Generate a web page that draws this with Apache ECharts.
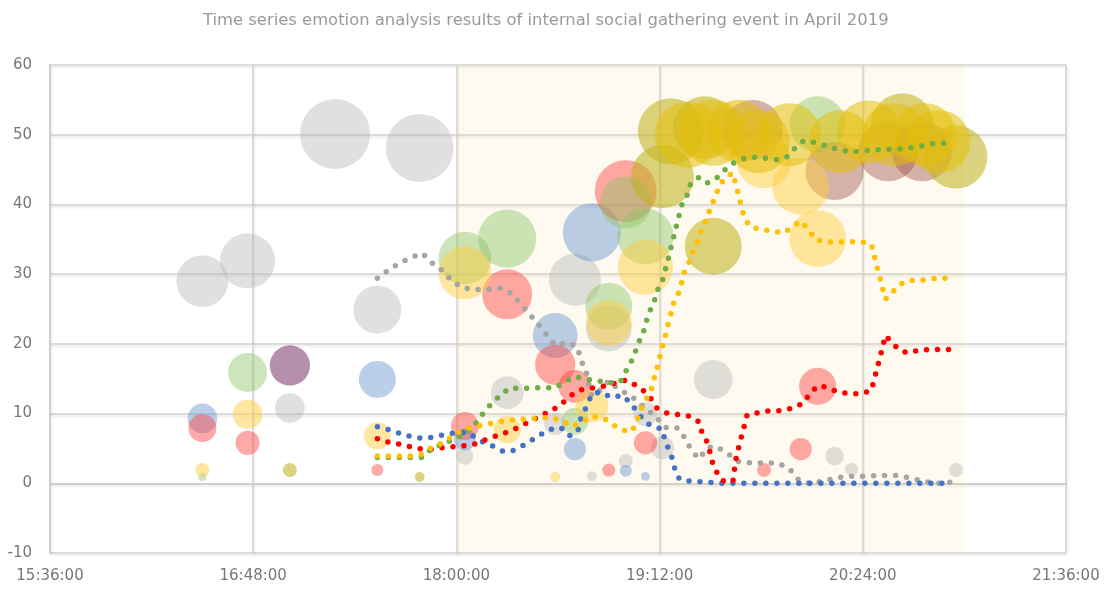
<!DOCTYPE html>
<html lang="en">

<head>
    <meta charset="UTF-8">
    <title>Emotion analysis</title>
    <script src="https://cdn.jsdelivr.net/npm/echarts@6/dist/echarts.min.js"></script>
    <style>
        body { margin: 0; background: #fff; }
    </style>
</head>

<body>
    <div id="main" style="width: 1108px;height:589px;"></div>
    <script type="text/javascript">
        // bubbles: [time, value, weight]
        const grayBubbles = [['16:30', 29.0, 55], ['16:46', 31.9, 62], ['17:01', 10.8, 18], ['17:17', 50.1, 100],
            ['17:32', 24.9, 47], ['17:47', 48.1, 94], ['18:03', 3.9, 6], ['18:18', 13.0, 22], ['18:35', 8.5, 10],
            ['18:42', 29.2, 55], ['18:48', 1.0, 2], ['18:54', 22.2, 43], ['19:00', 3.2, 4], ['19:07', 9.9, 12],
            ['19:13', 5.1, 11], ['19:31', 14.9, 31], ['20:14', 3.9, 7], ['20:20', 2.0, 3.5], ['20:57', 1.9, 4]];
        const purpleBubbles = [['17:01', 16.9, 33]];
        const brownBubbles = [['19:45', 50.7, 73], ['20:14', 44.8, 69], ['20:33', 47.6, 73], ['20:45', 47.6, 73]];
        const blueBubbles = [['16:30', 9.3, 18], ['17:32', 14.9, 28], ['18:03', 6.3, 10], ['18:35', 21.2, 41],
            ['18:42', 4.9, 10], ['18:48', 36.0, 69], ['19:00', 1.8, 3], ['19:07', 1.0, 1.6]];
        const redBubbles = [['16:30', 7.9, 16], ['16:46', 5.8, 12], ['17:32', 1.9, 3], ['18:03', 8.2, 16],
            ['18:18', 27.1, 51], ['18:35', 17.0, 33], ['18:42', 13.9, 22], ['18:54', 1.9, 3.5], ['19:00', 41.9, 78],
            ['19:07', 5.8, 11], ['19:49', 1.9, 4], ['20:02', 4.9, 10], ['20:08', 13.9, 28]];
        const greenBubbles = [['16:30', 0.9, 1.3], ['16:46', 15.9, 31], ['18:03', 32.3, 57], ['18:18', 35.1, 69],
            ['18:42', 8.9, 15], ['18:54', 25.4, 45], ['19:00', 40.3, 55], ['19:07', 35.4, 64], ['20:08', 51.5, 64]];
        const yellowBubbles = [['16:30', 1.9, 4], ['16:46', 9.9, 18], ['17:32', 6.8, 15], ['18:03', 30.2, 57],
            ['18:18', 7.7, 15], ['18:35', 0.9, 2], ['18:48', 11.1, 22], ['18:54', 23.0, 43], ['19:07', 31.0, 62],
            ['19:49', 46.2, 60], ['20:02', 42.6, 66], ['20:08', 35.1, 66]];
        const oliveBubbles = [['17:01', 1.9, 4], ['17:47', 0.9, 2], ['19:13', 44.0, 81], ['19:16', 50.5, 89],
            ['19:28', 51.0, 81], ['19:31', 34.0, 66], ['20:38', 51.4, 81], ['20:57', 46.8, 81]];
        const goldBubbles = [['19:22', 50.0, 89], ['19:31', 50.3, 89], ['19:40', 50.5, 81], ['19:47', 49.0, 81],
            ['19:58', 50.0, 81], ['20:16', 49.0, 81], ['20:26', 50.4, 81], ['20:35', 50.0, 81], ['20:46', 50.0, 81],
            ['20:51', 49.0, 81]];

        // time series lines: [time, value]
        const grayLine = [['17:32', 29.4], ['17:36', 30.6], ['17:40', 31.6], ['17:44', 32.4], ['17:48', 33.0], ['17:51', 31.7],
            ['17:55', 30.5], ['17:58', 29.2], ['18:02', 28.0], ['18:07', 27.8], ['18:11', 27.8], ['18:16', 28.0], ['18:20', 27.1],
            ['18:23', 25.6], ['18:26', 24.2], ['18:29', 22.8], ['18:32', 21.3], ['18:35', 19.8], ['18:40', 20.2], ['18:43', 19.4],
            ['18:44', 17.8], ['18:46', 15.9], ['18:47', 14.0], ['18:48', 12.5], ['18:51', 13.4], ['18:54', 14.7], ['18:57', 13.6],
            ['19:02', 12.5], ['19:06', 11.1], ['19:09', 10.1], ['19:11', 9.4], ['19:14', 8.0], ['19:18', 8.0], ['19:21', 6.5],
            ['19:23', 4.9], ['19:26', 3.5], ['19:29', 5.1], ['19:32', 5.3], ['19:36', 4.3], ['19:40', 3.1], ['19:45', 2.9],
            ['19:50', 2.9], ['19:54', 2.9], ['19:58', 2.1], ['20:01', 0.6], ['20:05', 0], ['20:10', 0.3], ['20:14', 0.7],
            ['20:18', 1.0], ['20:23', 1.0], ['20:28', 1.1], ['20:33', 1.1], ['20:37', 1.1], ['20:42', 0.6], ['20:47', 0.2],
            ['20:51', 0], ['20:56', 0.2]];
        const blueLine = [['17:32', 8.1], ['17:37', 7.6], ['17:41', 7.0], ['17:46', 6.5], ['17:50', 6.5], ['17:55', 6.9],
            ['18:00', 7.3], ['18:04', 7.3], ['18:08', 6.2], ['18:13', 5.3], ['18:17', 4.5], ['18:20', 4.7], ['18:25', 5.7],
            ['18:29', 6.8], ['18:33', 7.7], ['18:37', 8.0], ['18:40', 6.8], ['18:43', 7.4], ['18:44', 9.2], ['18:46', 10.9],
            ['18:48', 12.8], ['18:51', 13.1], ['18:55', 12.3], ['18:59', 12.6], ['19:02', 11.4], ['19:05', 9.7], ['19:08', 8.5],
            ['19:13', 7.7], ['19:14', 5.9], ['19:16', 4.3], ['19:17', 2.5], ['19:19', 0.6], ['19:23', 0.3], ['19:28', 0.2],
            ['19:33', 0], ['20:53', 0]];
        const redLine = [['17:32', 6.4], ['17:36', 5.9], ['17:40', 5.6], ['17:44', 5.2], ['17:48', 4.9], ['17:52', 4.9],
            ['17:55', 5.1], ['18:00', 5.3], ['18:04', 5.4], ['18:08', 5.8], ['18:11', 6.4], ['18:15', 6.9], ['18:19', 7.5],
            ['18:23', 8.2], ['18:26', 8.9], ['18:30', 9.7], ['18:34', 10.5], ['18:37', 11.3], ['18:40', 12.4], ['18:43', 13.3],
            ['18:47', 13.6], ['18:51', 13.8], ['18:55', 14.2], ['19:00', 14.8], ['19:03', 14.2], ['19:06', 13.4], ['19:09', 12.1],
            ['19:11', 10.8], ['19:15', 10.0], ['19:18', 9.9], ['19:23', 9.6], ['19:26', 8.8], ['19:27', 7.3], ['19:29', 5.8],
            ['19:30', 4.2], ['19:31', 2.6], ['19:33', 1.0], ['19:35', 0.2], ['19:38', 0.3], ['19:39', 3.4], ['19:40', 5.1],
            ['19:41', 6.7], ['19:42', 8.2], ['19:43', 9.8], ['19:47', 10.1], ['19:51', 10.4], ['19:55', 10.4], ['19:59', 10.8],
            ['20:03', 11.5], ['20:05', 12.7], ['20:08', 14.0], ['20:12', 13.7], ['20:15', 13.1], ['20:19', 12.9], ['20:23', 12.8],
            ['20:27', 13.3], ['20:28', 14.8], ['20:29', 16.4], ['20:30', 17.9], ['20:31', 19.5], ['20:32', 21.2], ['20:34', 20.3],
            ['20:37', 19.1], ['20:40', 18.7], ['20:44', 19.1], ['20:48', 19.2], ['20:53', 19.2], ['20:57', 19.2]];
        const greenLine = [['17:32', 3.7], ['17:48', 3.7], ['17:51', 4.9], ['17:55', 5.6], ['17:59', 6.3], ['18:03', 7.0],
            ['18:08', 9.1], ['18:10', 10.4], ['18:13', 11.6], ['18:16', 12.8], ['18:19', 13.7], ['18:23', 13.6], ['18:27', 13.7],
            ['18:31', 13.7], ['18:35', 13.7], ['18:39', 14.7], ['18:42', 15.3], ['18:46', 14.9], ['18:50', 14.7], ['18:54', 14.4],
            ['18:58', 14.5], ['19:01', 16.8], ['19:03', 18.2], ['19:04', 19.8], ['19:06', 21.3], ['19:07', 22.8], ['19:08', 24.3],
            ['19:10', 25.9], ['19:11', 27.5], ['19:13', 29.1], ['19:14', 30.6], ['19:15', 32.1], ['19:16', 33.8], ['19:17', 35.3],
            ['19:18', 37.0], ['19:19', 38.6], ['19:20', 40.1], ['19:22', 41.5], ['19:23', 43.0], ['19:26', 43.9], ['19:29', 43.1],
            ['19:32', 43.7], ['19:35', 44.9], ['19:38', 45.9], ['19:42', 46.6], ['19:46', 46.8], ['19:50', 46.6], ['19:54', 46.4],
            ['19:57', 46.8], ['20:00', 48.1], ['20:03', 49.1], ['20:07', 48.9], ['20:11', 48.4], ['20:15', 47.9], ['20:19', 47.6],
            ['20:23', 47.6], ['20:27', 47.8], ['20:31', 47.9], ['20:35', 47.9], ['20:39', 48.0], ['20:44', 48.3], ['20:47', 48.6],
            ['20:51', 48.8], ['20:55', 48.7]];
        const yellowLine = [['17:32', 3.9], ['17:44', 3.9], ['17:48', 4.2], ['17:51', 5.1], ['17:55', 5.8], ['17:58', 6.6],
            ['18:02', 7.6], ['18:06', 8.1], ['18:10', 8.4], ['18:14', 8.7], ['18:18', 9.0], ['18:22', 9.2], ['18:26', 9.2],
            ['18:30', 9.4], ['18:34', 9.4], ['18:38', 8.9], ['18:41', 8.1], ['18:45', 8.9], ['18:48', 9.6], ['18:52', 9.4],
            ['18:55', 8.5], ['18:59', 7.6], ['19:02', 7.4], ['19:04', 8.8], ['19:05', 10.4], ['19:07', 11.8], ['19:09', 13.4],
            ['19:10', 14.9], ['19:11', 16.4], ['19:12', 18.0], ['19:13', 19.6], ['19:14', 21.1], ['19:15', 22.8], ['19:16', 24.3],
            ['19:17', 25.9], ['19:19', 27.5], ['19:20', 29.1], ['19:21', 30.7], ['19:23', 32.1], ['19:24', 33.5], ['19:26', 35.0],
            ['19:27', 36.6], ['19:29', 38.1], ['19:30', 39.6], ['19:32', 41.3], ['19:33', 42.7], ['19:36', 44.1], ['19:38', 44.5],
            ['19:39', 42.9], ['19:40', 41.3], ['19:41', 39.7], ['19:42', 38.1], ['19:44', 36.8], ['19:48', 36.4], ['19:52', 36.2],
            ['19:56', 35.9], ['19:59', 36.8], ['20:02', 37.6], ['20:05', 36.3], ['20:07', 35.0], ['20:11', 34.6], ['20:15', 34.6],
            ['20:19', 34.6], ['20:23', 34.7], ['20:27', 34.3], ['20:28', 32.7], ['20:29', 31.1], ['20:30', 29.6], ['20:31', 28.0],
            ['20:32', 26.4], ['20:34', 27.2], ['20:37', 28.5], ['20:40', 29.1], ['20:44', 29.1], ['20:48', 29.3], ['20:52', 29.5],
            ['20:56', 29.2]];

        const eventStart = '18:00';
        const eventEnd = '21:00';

        function toMin(s) {
            const p = s.split(':');
            return +p[0] * 60 + +p[1];
        }
        function fmt(m) {
            const h = Math.floor(m / 60), mm = m % 60;
            return h + ':' + (mm < 10 ? '0' : '') + mm + ':00';
        }

        function bubbles(data, color) {
            return {
                type: 'scatter',
                data: data.map(d => [toMin(d[0]), d[1], d[2]]),
                symbolSize: v => 7 * Math.sqrt(v[2]),
                itemStyle: { color: color },
                z: 2
            };
        }
        function dots(data, color) {
            return {
                type: 'line',
                data: data.map(d => [toMin(d[0]), d[1]]),
                showSymbol: false,
                lineStyle: { color: color, width: 5.5, type: [0, 11], cap: 'round' },
                z: 5
            };
        }

        const labelFont = 'DejaVu Sans';
        const gridLine = { color: '#d0d0d0', width: 1.5, shadowColor: 'rgba(0,0,0,0.10)', shadowBlur: 2, shadowOffsetY: 2, shadowOffsetX: 1 };

        let options = {
            animation: false,
            title: {
                text: 'Time series emotion analysis results of internal social gathering event in April 2019',
                left: 198, top: 8,
                textStyle: { color: '#9a9a9a', fontSize: 16.4, fontWeight: 'normal', fontFamily: labelFont }
            },
            grid: { left: 50, right: 42, top: 65, bottom: 36 },
            xAxis: {
                type: 'value', min: 936, max: 1296, interval: 72,
                axisLine: { lineStyle: { color: '#cfcfcf', width: 2 } },
                axisTick: { show: false },
                splitLine: { lineStyle: gridLine },
                axisLabel: { formatter: fmt, color: '#777777', fontSize: 15, margin: 16, fontFamily: labelFont }
            },
            yAxis: {
                type: 'value', min: -10, max: 60, interval: 10,
                axisLine: { show: true, lineStyle: { color: '#cfcfcf', width: 2 } },
                axisTick: { show: false },
                splitLine: { lineStyle: gridLine },
                axisLabel: { color: '#777777', fontSize: 15, margin: 18, fontFamily: labelFont }
            },
            series: [
                {
                    type: 'line', data: [], silent: true,
                    markArea: {
                        silent: true,
                        itemStyle: { color: 'rgba(248,222,150,0.14)' },
                        data: [[{ xAxis: toMin(eventStart) }, { xAxis: toMin(eventEnd) }]]
                    }
                },
                bubbles(grayBubbles, 'rgba(185,185,185,0.55)'),
                bubbles(purpleBubbles, 'rgba(115,40,95,0.65)'),
                bubbles(brownBubbles, 'rgba(150,70,60,0.5)'),
                bubbles(blueBubbles, 'rgba(100,145,210,0.55)'),
                bubbles(redBubbles, 'rgba(255,60,60,0.55)'),
                bubbles(greenBubbles, 'rgba(140,195,100,0.55)'),
                bubbles(yellowBubbles, 'rgba(255,205,60,0.6)'),
                bubbles(oliveBubbles, 'rgba(195,178,35,0.72)'),
                bubbles(goldBubbles, 'rgba(228,190,10,0.68)'),
                dots(grayLine, '#a5a5a5'),
                dots(blueLine, '#4472c4'),
                dots(redLine, '#ff0000'),
                dots(greenLine, '#70ad47'),
                dots(yellowLine, '#ffc000')
            ]
        };

        let myChart = echarts.init(document.getElementById('main'));
        myChart.setOption(options);
    </script>
</body>

</html>
